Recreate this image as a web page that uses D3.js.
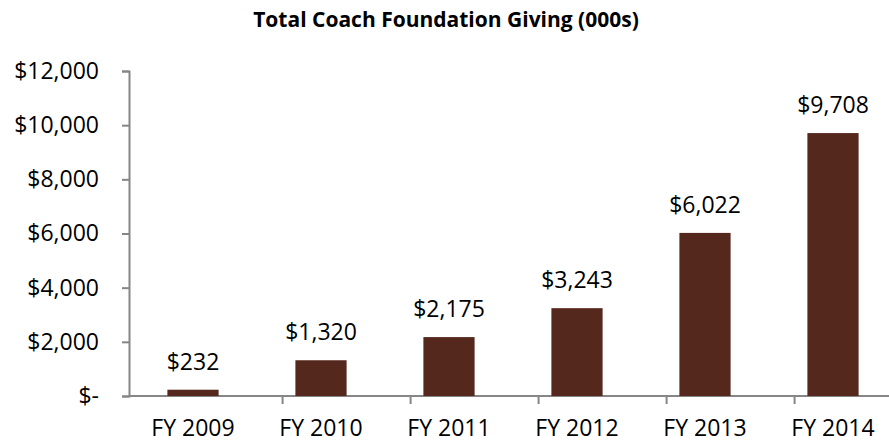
<!DOCTYPE html>
<html>
<head>
<meta charset="utf-8">
<script src="https://cdn.jsdelivr.net/npm/d3@7"></script>
<style>
  body { margin: 0; background: #fff; }
  text { font-family: "Open Sans", sans-serif; fill: #000; }
</style>
</head>
<body>
<div id="chart"></div>
<script>
// Chart data
const years = ["FY 2009", "FY 2010", "FY 2011", "FY 2012", "FY 2013", "FY 2014"];
const giving = [232, 1320, 2175, 3243, 6022, 9708];
const yTicks = [0, 2000, 4000, 6000, 8000, 10000, 12000];

const w = 889;
const h = 443;

const svg = d3.select("#chart")
              .append("svg")
              .attr("width", w)
              .attr("height", h);

// scales
const xScale = d3.scaleBand()
                 .domain(years)
                 .range([129, 897])
                 .paddingInner(0.6)
                 .paddingOuter(0.3);
const yScale = d3.scaleLinear()
                 .domain([0, 12000])
                 .range([396, 71]);

// format money like Excel accounting
const money = v => v === 0 ? "$-" : "$" + d3.format(",")(v);

// title
svg.append("text")
   .attr("x", 446)
   .attr("y", 27)
   .attr("text-anchor", "middle")
   .style("font-weight", "bold")
   .style("font-size", "21px")
   .text("Total Coach Foundation Giving (000s)");

// y axis
const yAxis = svg.append("g")
                 .attr("transform", "translate(129,0)")
                 .call(d3.axisLeft(yScale).tickValues(yTicks).tickFormat(money).tickSize(7).tickPadding(23));
yAxis.selectAll("text").style("font-size", "23px");

// x axis with ticks between bands
const xAxis = svg.append("g")
                 .attr("transform", "translate(0,396)")
                 .call(d3.axisBottom(xScale).tickSize(0));
xAxis.selectAll("text")
     .attr("y", 40)
     .attr("dy", 0)
     .style("font-size", "23px");
xAxis.selectAll(".tick").each(function(d) {
    d3.select(this).append("line")
      .attr("x1", xScale.bandwidth() / 2 + xScale.step() / 2)
      .attr("x2", xScale.bandwidth() / 2 + xScale.step() / 2)
      .attr("y1", 0)
      .attr("y2", 8);
});
xAxis.select(".domain").attr("d", "M129,0H897");

svg.selectAll(".domain, .tick line")
   .attr("stroke", "#868686")
   .attr("stroke-width", 2);

// bars
svg.selectAll("rect.bar")
   .data(giving)
   .enter()
   .append("rect")
   .attr("class", "bar")
   .attr("x", (d, i) => xScale(years[i]))
   .attr("y", d => yScale(d))
   .attr("width", xScale.bandwidth())
   .attr("height", d => 396 - yScale(d))
   .attr("fill", "#55281e");

// value labels
svg.selectAll("text.val")
   .data(giving)
   .enter()
   .append("text")
   .attr("class", "val")
   .attr("x", (d, i) => xScale(years[i]) + xScale.bandwidth() / 2)
   .attr("y", d => yScale(d) - 20)
   .attr("text-anchor", "middle")
   .style("font-size", "23px")
   .text(money);
</script>
</body>
</html>
